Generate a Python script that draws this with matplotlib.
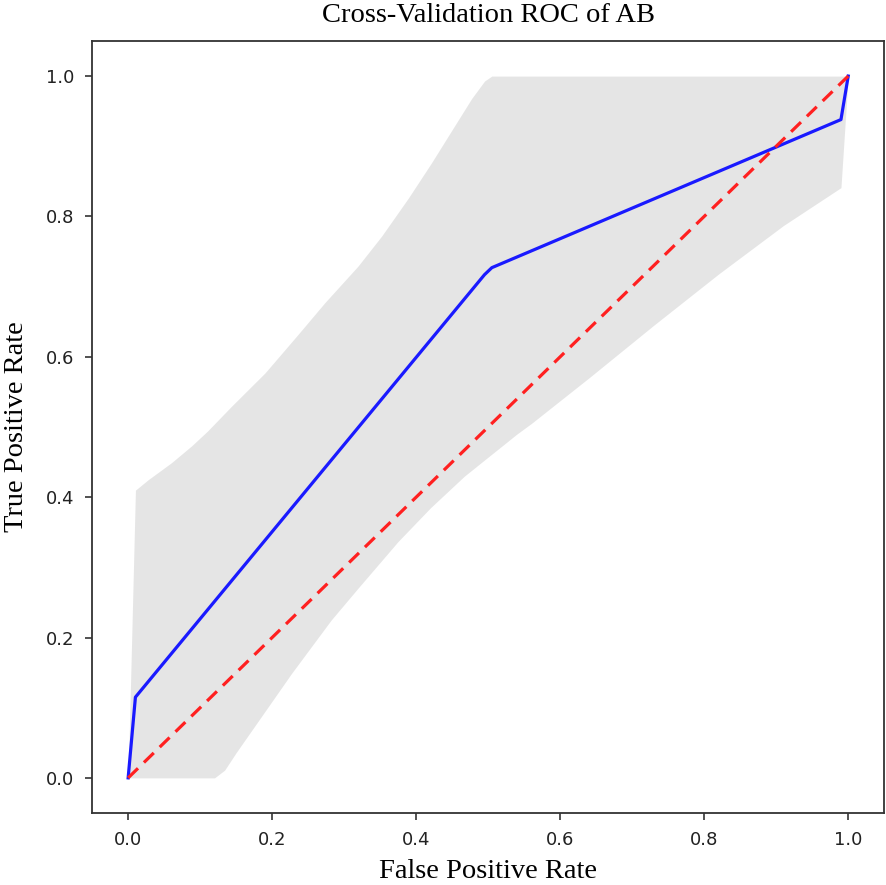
import numpy as np
import matplotlib
matplotlib.use("Agg")
import matplotlib.pyplot as plt

# mean ROC
mean_fpr = [0.0, 0.0101, 0.4949, 0.5051, 0.9899, 1.0]
mean_tpr = [0.0, 0.115, 0.717, 0.727, 0.938, 1.0]

# +/- 1 std band (upper / lower edges)
upper_fpr = [0.0, 0.0101, 0.028, 0.06, 0.088, 0.11, 0.143, 0.19, 0.236, 0.273, 0.319,
             0.352, 0.389, 0.421, 0.449, 0.477, 0.495, 0.505, 0.9899, 1.0]
upper_tpr = [0.0, 0.41, 0.425, 0.449, 0.473, 0.494, 0.529, 0.577, 0.632, 0.677, 0.729,
             0.772, 0.826, 0.876, 0.922, 0.968, 0.993, 1.0, 1.0, 1.0]
lower_fpr = [0.0, 0.12, 0.134, 0.15, 0.18, 0.227, 0.282, 0.319, 0.375, 0.42, 0.467,
             0.54, 0.56, 0.64, 0.73, 0.82, 0.91, 0.9899, 1.0]
lower_tpr = [0.0, 0.0, 0.011, 0.036, 0.08, 0.149, 0.225, 0.27, 0.337, 0.385, 0.43,
             0.49, 0.505, 0.57, 0.645, 0.718, 0.787, 0.841, 1.0]

chance = [0.0, 1.0]

grid = np.union1d(upper_fpr, lower_fpr)
tprs_upper = np.interp(grid, upper_fpr, upper_tpr)
tprs_lower = np.interp(grid, lower_fpr, lower_tpr)

fig = plt.figure(figsize=(8.86, 8.85), dpi=100)
ax = fig.add_axes([0.104, 0.0814, 0.894, 0.8723])

ax.fill_between(grid, tprs_lower, tprs_upper, color='grey', alpha=.2, lw=0)
ax.plot(mean_fpr, mean_tpr, color='#1a1aff', lw=2.3)
ax.plot(chance, chance, color='#ff2020', lw=2.3, linestyle=(0, (4.3, 2.6)))

ax.set_xlim(-0.05, 1.05)
ax.set_ylim(-0.05, 1.05)
ax.set_xticks([0.0, 0.2, 0.4, 0.6, 0.8, 1.0])
ax.set_yticks([0.0, 0.2, 0.4, 0.6, 0.8, 1.0])
ax.tick_params(labelsize=13, length=5, width=1.1, pad=8, colors='#222222')
for s in ax.spines.values():
    s.set_linewidth(1.3)
    s.set_color('#333333')

serif = dict(family='Liberation Serif', size=20.5)
ax.set_title('Cross-Validation ROC of AB', pad=14, **serif)
ax.set_xlabel('False Positive Rate', labelpad=7, **serif)
ax.set_ylabel('True Positive Rate', labelpad=12, **serif)

fig.savefig('out.png', dpi=100)
